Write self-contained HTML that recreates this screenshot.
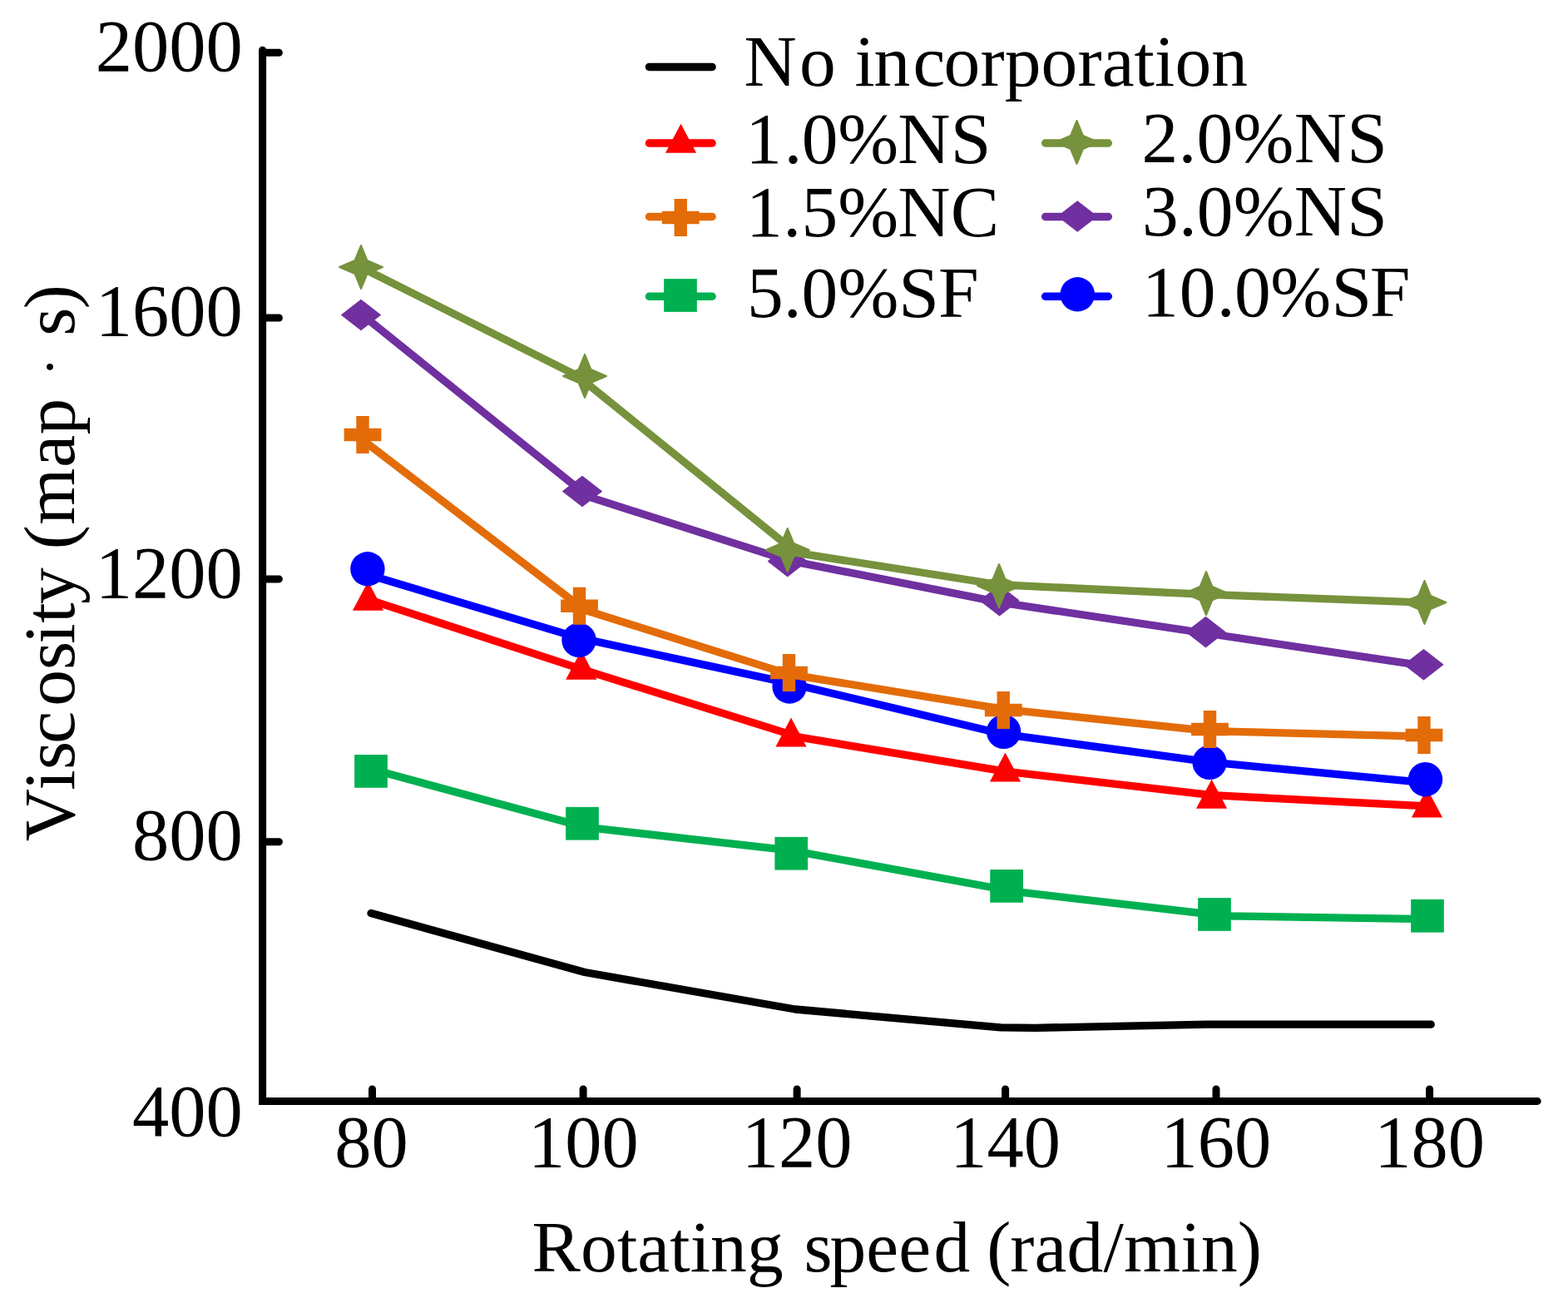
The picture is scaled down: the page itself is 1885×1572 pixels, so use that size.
<!DOCTYPE html>
<html lang="en"><head><meta charset="utf-8"><title>Viscosity vs rotating speed</title>
<style>
html,body{margin:0;padding:0;background:#fff;}
body{width:1885px;height:1572px;overflow:hidden;}
svg{display:block;}
text{font-family:"Liberation Serif",serif;font-size:88.5px;fill:#000;}
</style></head><body>
<svg width="1885" height="1572" viewBox="0 0 1885 1572">
<rect width="1885" height="1572" fill="#fff"/>

<g stroke="#000" stroke-width="9.0" stroke-linecap="round" fill="none">
<path d="M315.6,60.3 V1323.4 H1848.2" stroke-linejoin="miter"/>
<line x1="315.6" y1="63.35" x2="335.4" y2="63.35"/>
<line x1="315.6" y1="382.0" x2="335.4" y2="382.0"/>
<line x1="315.6" y1="695.9" x2="335.4" y2="695.9"/>
<line x1="315.6" y1="1011.75" x2="335.4" y2="1011.75"/>
<line x1="447.5" y1="1323.4" x2="447.5" y2="1308.9"/>
<line x1="701.1" y1="1323.4" x2="701.1" y2="1308.9"/>
<line x1="958.1" y1="1323.4" x2="958.1" y2="1308.9"/>
<line x1="1208.6" y1="1323.4" x2="1208.6" y2="1308.9"/>
<line x1="1462.0" y1="1323.4" x2="1462.0" y2="1308.9"/>
<line x1="1718.6" y1="1323.4" x2="1718.6" y2="1308.9"/>
</g>
<g>
<polyline points="446,1097.5 703,1168.5 956,1213 1203,1234.8 1245,1235.3 1452,1231.2 1720.3,1231.2" fill="none" stroke="#000000" stroke-width="9.3" stroke-linejoin="round" stroke-linecap="round"/>
</g>
<g>
<rect x="426.15" y="907.05" width="39.7" height="39.7" fill="#00B050"/>
<rect x="680.15" y="969.9" width="39.7" height="39.7" fill="#00B050"/>
<rect x="931.4" y="1005.9" width="39.7" height="39.7" fill="#00B050"/>
<rect x="1190.25" y="1045.05" width="39.7" height="39.7" fill="#00B050"/>
<rect x="1440.15" y="1079.15" width="39.7" height="39.7" fill="#00B050"/>
<rect x="1696.15" y="1080.9" width="39.7" height="39.7" fill="#00B050"/>
<polyline points="446,924.24 703.27,994.11 951.25,1022.09 1220.89,1071.74 1473.16,1100.88 1716,1104.53" fill="none" stroke="#00B050" stroke-width="9.3" stroke-linejoin="round" stroke-linecap="round"/>
</g>
<g>
<polygon points="442.5,698.8 461.1,733.8 423.9,733.8" fill="#FF0000"/>
<polygon points="698.75,781.8 717.35,816.8 680.15,816.8" fill="#FF0000"/>
<polygon points="951,862.55 969.6,897.55 932.4,897.55" fill="#FF0000"/>
<polygon points="1208.5,904.55 1227.1,939.55 1189.9,939.55" fill="#FF0000"/>
<polygon points="1456.6,936.8 1475.2,971.8 1438,971.8" fill="#FF0000"/>
<polygon points="1715.5,947.55 1734.1,982.55 1696.9,982.55" fill="#FF0000"/>
<polyline points="442.5,720.33 698.75,804.18 961.45,886.17 1208.5,927.09 1456.6,955.69 1715.5,968.96" fill="none" stroke="#FF0000" stroke-width="9.3" stroke-linejoin="round" stroke-linecap="round"/>
</g>
<g>
<circle cx="441.9" cy="683.75" r="20.7" fill="#0000FF"/>
<circle cx="696" cy="769.3" r="20.7" fill="#0000FF"/>
<circle cx="949.1" cy="825" r="20.7" fill="#0000FF"/>
<circle cx="1206.6" cy="879.3" r="20.7" fill="#0000FF"/>
<circle cx="1454.1" cy="916.3" r="20.7" fill="#0000FF"/>
<circle cx="1713.5" cy="936.7" r="20.7" fill="#0000FF"/>
<polyline points="441.9,690.55 696,766.6 949.1,821.12 1206.6,882.4 1454.1,915.98 1713.5,940.6" fill="none" stroke="#0000FF" stroke-width="9.3" stroke-linejoin="round" stroke-linecap="round"/>
</g>
<g>
<path d="M428.3,500.1h15.4v14.7h14.7v15.4h-14.7v14.7h-15.4v-14.7h-14.7v-15.4h14.7z" fill="#E36C09"/>
<path d="M688.8,705.85h15.4v14.7h14.7v15.4h-14.7v14.7h-15.4v-14.7h-14.7v-15.4h14.7z" fill="#E36C09"/>
<path d="M940.8,786.1h15.4v14.7h14.7v15.4h-14.7v14.7h-15.4v-14.7h-14.7v-15.4h14.7z" fill="#E36C09"/>
<path d="M1198.55,831.1h15.4v14.7h14.7v15.4h-14.7v14.7h-15.4v-14.7h-14.7v-15.4h14.7z" fill="#E36C09"/>
<path d="M1446.8,854.1h15.4v14.7h14.7v15.4h-14.7v14.7h-15.4v-14.7h-14.7v-15.4h14.7z" fill="#E36C09"/>
<path d="M1704.3,861.1h15.4v14.7h14.7v15.4h-14.7v14.7h-15.4v-14.7h-14.7v-15.4h14.7z" fill="#E36C09"/>
<polyline points="436,528.75 702.57,733.03 948.5,810.35 1206.25,852.41 1454.5,878.57 1712,885.21" fill="none" stroke="#E36C09" stroke-width="9.3" stroke-linejoin="round" stroke-linecap="round"/>
</g>
<g>
<polygon points="434,360.2 457.6,378.5 434,396.8 410.4,378.5" fill="#7030A0" stroke="#7030A0" stroke-width="1" stroke-linejoin="round"/>
<polygon points="700,572.2 723.6,590.5 700,608.8 676.4,590.5" fill="#7030A0" stroke="#7030A0" stroke-width="1" stroke-linejoin="round"/>
<polygon points="946.75,656.3 970.35,674.6 946.75,692.9 923.15,674.6" fill="#7030A0" stroke="#7030A0" stroke-width="1" stroke-linejoin="round"/>
<polygon points="1201.5,703.4 1225.1,721.7 1201.5,740 1177.9,721.7" fill="#7030A0" stroke="#7030A0" stroke-width="1" stroke-linejoin="round"/>
<polygon points="1449.5,741.3 1473.1,759.6 1449.5,777.9 1425.9,759.6" fill="#7030A0" stroke="#7030A0" stroke-width="1" stroke-linejoin="round"/>
<polygon points="1711.5,780.45 1735.1,798.75 1711.5,817.05 1687.9,798.75" fill="#7030A0" stroke="#7030A0" stroke-width="1" stroke-linejoin="round"/>
<polyline points="434,377.09 707.14,596.9 946.75,673.34 1201.5,723.9 1449.5,761.01 1711.5,800.04" fill="none" stroke="#7030A0" stroke-width="9.3" stroke-linejoin="round" stroke-linecap="round"/>
</g>
<g>
<polygon points="434,295.1 441.3,312.9 459.9,321 441.3,329.1 434,346.9 426.7,329.1 408.1,321 426.7,312.9" fill="#76923C" stroke="#76923C" stroke-width="2.2" stroke-linejoin="round"/>
<polygon points="703,426.1 710.3,443.9 728.9,452 710.3,460.1 703,477.9 695.7,460.1 677.1,452 695.7,443.9" fill="#76923C" stroke="#76923C" stroke-width="2.2" stroke-linejoin="round"/>
<polygon points="946.75,635.1 954.05,652.9 972.65,661 954.05,669.1 946.75,686.9 939.45,669.1 920.85,661 939.45,652.9" fill="#76923C" stroke="#76923C" stroke-width="2.2" stroke-linejoin="round"/>
<polygon points="1201,678.2 1208.3,696 1226.9,704.1 1208.3,712.2 1201,730 1193.7,712.2 1175.1,704.1 1193.7,696" fill="#76923C" stroke="#76923C" stroke-width="2.2" stroke-linejoin="round"/>
<polygon points="1450,687.2 1457.3,705 1475.9,713.1 1457.3,721.2 1450,739 1442.7,721.2 1424.1,713.1 1442.7,705" fill="#76923C" stroke="#76923C" stroke-width="2.2" stroke-linejoin="round"/>
<polygon points="1712.5,698.1 1719.8,715.9 1738.4,724 1719.8,732.1 1712.5,749.9 1705.2,732.1 1686.6,724 1705.2,715.9" fill="#76923C" stroke="#76923C" stroke-width="2.2" stroke-linejoin="round"/>
<polyline points="434,321.25 694.59,451.82 957.25,664.35 1201,702.74 1450,714.46 1712.5,724.14" fill="none" stroke="#76923C" stroke-width="9.3" stroke-linejoin="round" stroke-linecap="round"/>
</g>
<line x1="780.35" y1="80.5" x2="856.15" y2="80.5" stroke="#000000" stroke-width="9.3" stroke-linecap="round"/>
<polygon points="818.5,148.8 837.1,183.8 799.9,183.8" fill="#FF0000"/>
<line x1="780.35" y1="172" x2="856.15" y2="172" stroke="#FF0000" stroke-width="9.3" stroke-linecap="round"/>
<path d="M810.55,239.1h15.4v14.7h14.7v15.4h-14.7v14.7h-15.4v-14.7h-14.7v-15.4h14.7z" fill="#E36C09"/>
<line x1="780.35" y1="260.5" x2="856.15" y2="260.5" stroke="#E36C09" stroke-width="9.3" stroke-linecap="round"/>
<rect x="798.15" y="335.15" width="39.7" height="39.7" fill="#00B050"/>
<line x1="780.35" y1="356.25" x2="856.15" y2="356.25" stroke="#00B050" stroke-width="9.3" stroke-linecap="round"/>
<polygon points="1294.5,145.1 1301.8,162.9 1320.4,171 1301.8,179.1 1294.5,196.9 1287.2,179.1 1268.6,171 1287.2,162.9" fill="#76923C" stroke="#76923C" stroke-width="2.2" stroke-linejoin="round"/>
<line x1="1256.6" y1="172" x2="1332.4" y2="172" stroke="#76923C" stroke-width="9.3" stroke-linecap="round"/>
<polygon points="1295.25,241.7 1318.85,260 1295.25,278.3 1271.65,260" fill="#7030A0" stroke="#7030A0" stroke-width="1" stroke-linejoin="round"/>
<line x1="1256.6" y1="260.5" x2="1332.4" y2="260.5" stroke="#7030A0" stroke-width="9.3" stroke-linecap="round"/>
<circle cx="1295.25" cy="353.75" r="20.7" fill="#0000FF"/>
<line x1="1256.6" y1="356.25" x2="1332.4" y2="356.25" stroke="#0000FF" stroke-width="9.3" stroke-linecap="round"/>
<text x="114.65" y="85.15">2000</text>
<text x="114.65" y="403.25">1600</text>
<text x="114.65" y="717.6">1200</text>
<text x="158.9" y="1033.4">800</text>
<text x="158.9" y="1365.25">400</text>
<text x="402.25" y="1402.4">80</text>
<text x="635.02" y="1402.4">100</text>
<text x="891.73" y="1402.4">120</text>
<text x="1142.22" y="1402.4">140</text>
<text x="1395.62" y="1402.4">160</text>
<text x="1652.22" y="1402.4">180</text>
<text x="639.5 698.04 741.93 766.33 805.29 829.69 854.07 897.96 943.61 966.44 997.38 1041.22 1080.21 1122.49 1165.07 1186.36 1214.13 1243.48 1282.57 1326.61 1351.07 1419.59 1444.06 1487.71" y="1527.7" style="font-size:87.5px;">Rotating speed (rad/min)</text>
<text transform="translate(89,679) rotate(-90)" x="-332.3 -270.81 -245.93 -214.68 -169.71 -125.96 -94.71 -69.83 -46.93 -3.08 18.84 48.31 117.15 156.43 201.68 226.71 253.44 275.3 307.84" y="0" style="font-size:87.5px;">Viscosity (map <tspan style="font-size:68px" dy="-7.2">·</tspan><tspan dy="7.2"> s)</tspan></text>
<text x="894.6 961.11 1005.36 1027.48 1050.38 1097.42 1134.49 1178.39 1207.63 1251.53 1295.42 1324.66 1363.62 1388 1412.4 1456.3" y="103" style="font-size:87.5px;">No incorporation</text>
<text x="896.2 942.45 963.67 1007.33 1079.34 1142.85" y="195.8" style="font-size:87.5px;">1.0%NS</text>
<text x="897.1 941.35 963.48 1007.33 1079.34 1142.85" y="284.1" style="font-size:87.5px;">1.5%NC</text>
<text x="898 941.65 963.48 1007.52 1080.14 1127.96" y="380.8" style="font-size:87.5px;">5.0%SF</text>
<text x="1372.55 1416.52 1438.51 1482.48 1555.74 1619.25" y="194.9" style="font-size:87.5px;">2.0%NS</text>
<text x="1373 1416.89 1438.84 1482.73 1555.86 1619.25" y="283.4" style="font-size:87.5px;">3.0%NS</text>
<text x="1373.1 1417.75 1462.7 1484.12 1527.28 1600.59 1646.81" y="379.5" style="font-size:87.5px;">10.0%SF</text>
</svg></body></html>
